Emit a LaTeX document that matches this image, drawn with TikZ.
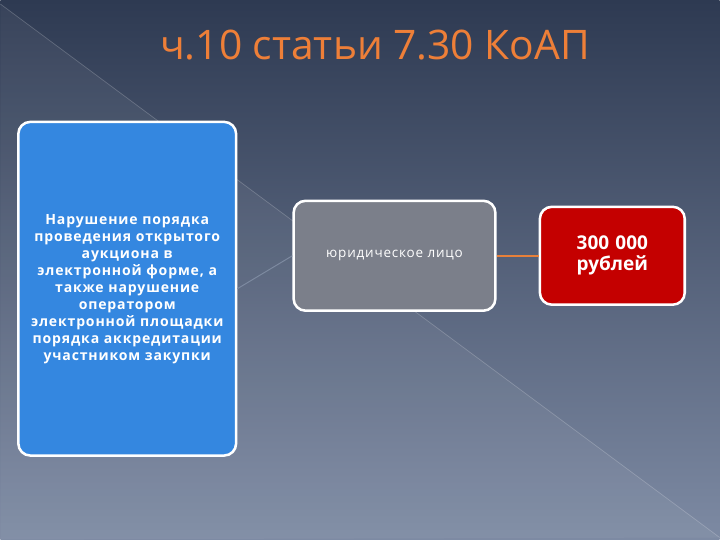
\documentclass[tikz,border=0pt]{standalone}
\usepackage{fontspec}
\setmainfont{Open Sans}
\newfontfamily\spacedfont[LetterSpace=6]{Open Sans}
\usepackage{xcolor}
\usetikzlibrary{shapes,arrows,positioning,fit}
\definecolor{bgtop}{HTML}{2E3A52}
\definecolor{bgbottom}{HTML}{7D8AA3}
\definecolor{boxblue}{HTML}{3487E0}
\definecolor{boxgray}{HTML}{7B7F8A}
\definecolor{boxred}{HTML}{C40000}
\definecolor{titleorange}{HTML}{EE7F38}
\definecolor{linkgray}{HTML}{7D8AA0}
\definecolor{linkorange}{HTML}{E8803A}

\begin{document}
\begin{tikzpicture}[node distance=1.375cm]
    \tikzstyle{block} = [rectangle, draw=white, line width=1.8pt, rounded corners=0.3cm,
        text=white, text centered, inner sep=2pt]
    % Background
    \shade[top color=bgtop, bottom color=bgbottom] (0,0) rectangle (18,13.5);
    \fill[white, opacity=0.05] (0,13.4) -- (18,0.05) -- (0,0) -- cycle;
    \draw[white, opacity=0.2, line width=0.5pt] (0,13.4) -- (18,0.05);
    \useasboundingbox (0,0) rectangle (18,13.5);

    \node (title) at (9.375,12.375) {\fontsize{29}{34}\selectfont\color{titleorange}ч.10 статьи 7.30 КоАП};

    \node [block, fill=boxblue, text width=5.3cm, minimum width=5.45cm, minimum height=8.35cm,
        font=\spacedfont\fontsize{10}{12.1}\selectfont\bfseries] (offence) at (3.175,6.275)
        {Нарушение порядка\\ проведения открытого\\ аукциона в\\ электронной форме, а\\ также нарушение\\ оператором\\ электронной площадки\\ порядка аккредитации\\ участником закупки};
    \node [block, fill=boxgray, minimum width=5.05cm, minimum height=2.75cm,
        font=\spacedfont\fontsize{9.6}{11}\selectfont] (entity) [right=of offence, yshift=0.825cm] {юридическое лицо};
    \node [block, fill=boxred, text width=3.4cm, minimum width=3.625cm, minimum height=2.45cm,
        font=\fontsize{13.5}{15}\selectfont\bfseries] (fine) [right=1.05cm of entity] {300 000\\рублей};

    % Links
    \draw [draw=linkgray, line width=0.7pt] (offence.east) -- (entity.west);
    \draw [draw=linkorange, line width=1.4pt] (entity.east) -- (fine.west);

\end{tikzpicture}
\end{document}
